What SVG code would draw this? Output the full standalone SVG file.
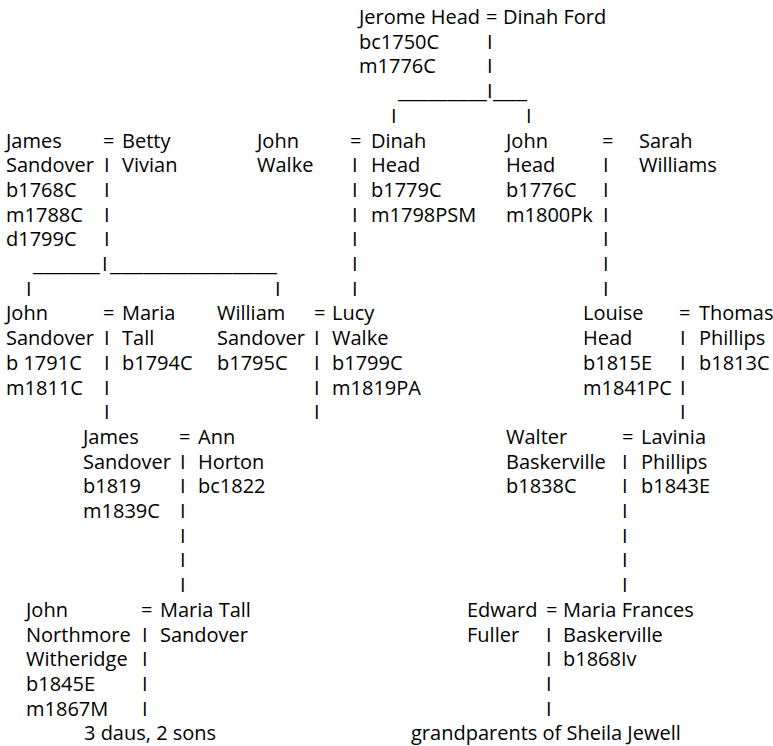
<svg xmlns="http://www.w3.org/2000/svg" width="773" height="746" viewBox="0 0 773 746">
<style>
text{font-family:"Open Sans","DejaVu Sans",sans-serif;font-size:20px;fill:#000}
</style>
<rect width="773" height="746" fill="#fff"/>
<g id="connectors">
<text x="486" y="24">=</text>
<text x="487" y="48.7">I</text><text x="487" y="73.4">I</text>
<text x="398" y="98.1" textLength="89" lengthAdjust="spacingAndGlyphs">_________</text>
<text x="487" y="98.1">I</text>
<text x="493" y="98.1" textLength="34" lengthAdjust="spacingAndGlyphs">___</text>
<text x="391" y="122.8">I</text><text x="526" y="122.8">I</text>
<text x="103" y="147.5">=</text>
<text x="104" y="172.2">I</text><text x="104" y="196.9">I</text><text x="104" y="221.6">I</text><text x="104" y="246.3">I</text>
<text x="33" y="271" textLength="67" lengthAdjust="spacingAndGlyphs">______</text>
<text x="102" y="271">I</text>
<text x="110" y="271" textLength="167" lengthAdjust="spacingAndGlyphs">_______________</text>
<text x="26" y="295.7">I</text><text x="275" y="295.7">I</text>
<text x="350" y="147.5">=</text>
<text x="352" y="172.2">I</text><text x="352" y="196.9">I</text><text x="352" y="221.6">I</text><text x="352" y="246.3">I</text><text x="352" y="271">I</text><text x="352" y="295.7">I</text>
<text x="602" y="147.5">=</text>
<text x="603" y="172.2">I</text><text x="603" y="196.9">I</text><text x="603" y="221.6">I</text><text x="603" y="246.3">I</text><text x="603" y="271">I</text><text x="603" y="295.7">I</text>
<text x="103" y="320.4">=</text>
<text x="104" y="345.1">I</text><text x="104" y="369.8">I</text><text x="104" y="394.5">I</text><text x="104" y="419.2">I</text>
<text x="314" y="320.4">=</text>
<text x="314" y="345.1">I</text><text x="314" y="369.8">I</text><text x="314" y="394.5">I</text><text x="314" y="419.2">I</text>
<text x="679" y="320.4">=</text>
<text x="680" y="345.1">I</text><text x="680" y="369.8">I</text><text x="680" y="394.5">I</text><text x="680" y="419.2">I</text>
<text x="179" y="443.9">=</text>
<text x="180" y="468.6">I</text><text x="180" y="493.3">I</text><text x="180" y="518">I</text><text x="180" y="542.7">I</text><text x="180" y="567.4">I</text><text x="180" y="592.1">I</text>
<text x="622" y="443.9">=</text>
<text x="622" y="468.6">I</text><text x="622" y="493.3">I</text><text x="622" y="518">I</text><text x="622" y="542.7">I</text><text x="622" y="567.4">I</text><text x="622" y="592.1">I</text>
<text x="141" y="616.8">=</text>
<text x="142" y="641.5">I</text><text x="142" y="666.2">I</text><text x="142" y="690.9">I</text><text x="142" y="715.6">I</text>
<text x="546" y="616.8">=</text>
<text x="546" y="641.5">I</text><text x="546" y="666.2">I</text><text x="546" y="690.9">I</text><text x="546" y="715.6">I</text>
</g>
<g id="jerome-head"><text x="359" y="24">Jerome Head</text><text x="359" y="48.7">bc1750C</text><text x="359" y="73.4">m1776C</text></g>
<g id="dinah-ford"><text x="503" y="24">Dinah Ford</text></g>
<g id="james-sandover-1768"><text x="6" y="147.5">James</text><text x="6" y="172.2">Sandover</text><text x="6" y="196.9">b1768C</text><text x="6" y="221.6">m1788C</text><text x="6" y="246.3">d1799C</text></g>
<g id="betty-vivian"><text x="122" y="147.5">Betty</text><text x="122" y="172.2">Vivian</text></g>
<g id="john-walke"><text x="257" y="147.5">John</text><text x="257" y="172.2">Walke</text></g>
<g id="dinah-head"><text x="371" y="147.5">Dinah</text><text x="371" y="172.2">Head</text><text x="371" y="196.9">b1779C</text><text x="371" y="221.6">m1798PSM</text></g>
<g id="john-head"><text x="506" y="147.5">John</text><text x="506" y="172.2">Head</text><text x="506" y="196.9">b1776C</text><text x="506" y="221.6">m1800Pk</text></g>
<g id="sarah-williams"><text x="639" y="147.5">Sarah</text><text x="639" y="172.2">Williams</text></g>
<g id="john-sandover"><text x="6" y="320.4">John</text><text x="6" y="345.1">Sandover</text><text x="6" y="369.8">b 1791C</text><text x="6" y="394.5">m1811C</text></g>
<g id="maria-tall"><text x="122" y="320.4">Maria</text><text x="122" y="345.1">Tall</text><text x="122" y="369.8">b1794C</text></g>
<g id="william-sandover"><text x="217" y="320.4">William</text><text x="217" y="345.1">Sandover</text><text x="217" y="369.8">b1795C</text></g>
<g id="lucy-walke"><text x="332" y="320.4">Lucy</text><text x="332" y="345.1">Walke</text><text x="332" y="369.8">b1799C</text><text x="332" y="394.5">m1819PA</text></g>
<g id="louise-head"><text x="583" y="320.4">Louise</text><text x="583" y="345.1">Head</text><text x="583" y="369.8">b1815E</text><text x="583" y="394.5">m1841PC</text></g>
<g id="thomas-phillips"><text x="699" y="320.4">Thomas</text><text x="699" y="345.1">Phillips</text><text x="699" y="369.8">b1813C</text></g>
<g id="james-sandover-1819"><text x="83" y="443.9">James</text><text x="83" y="468.6">Sandover</text><text x="83" y="493.3">b1819</text><text x="83" y="518">m1839C</text></g>
<g id="ann-horton"><text x="198" y="443.9">Ann</text><text x="198" y="468.6">Horton</text><text x="198" y="493.3">bc1822</text></g>
<g id="walter-baskerville"><text x="506" y="443.9">Walter</text><text x="506" y="468.6">Baskerville</text><text x="506" y="493.3">b1838C</text></g>
<g id="lavinia-phillips"><text x="641" y="443.9">Lavinia</text><text x="641" y="468.6">Phillips</text><text x="641" y="493.3">b1843E</text></g>
<g id="john-witheridge"><text x="26" y="616.8">John</text><text x="26" y="641.5">Northmore</text><text x="26" y="666.2">Witheridge</text><text x="26" y="690.9">b1845E</text><text x="26" y="715.6">m1867M</text></g>
<g id="maria-tall-sandover"><text x="160" y="616.8">Maria Tall</text><text x="160" y="641.5">Sandover</text></g>
<g id="children-witheridge"><text x="84" y="740.3">3 daus, 2 sons</text></g>
<g id="edward-fuller"><text x="467" y="616.8">Edward</text><text x="467" y="641.5">Fuller</text></g>
<g id="maria-frances-baskerville"><text x="563" y="616.8">Maria Frances</text><text x="563" y="641.5">Baskerville</text><text x="563" y="666.2">b1868Iv</text></g>
<g id="descendant-note"><text x="411" y="740.3">grandparents of Sheila Jewell</text></g>
</svg>
